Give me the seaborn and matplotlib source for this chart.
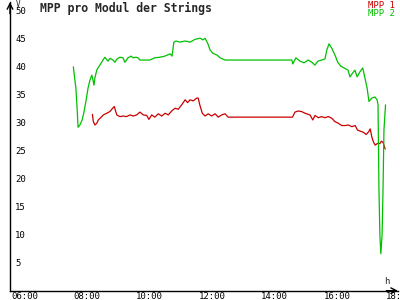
import matplotlib
matplotlib.use("Agg")
import matplotlib.pyplot as plt
import matplotlib.transforms as mtransforms
import seaborn as sns
import pandas as pd

# ---- data ----
title = "MPP pro Modul der Strings"
series_names = ["MPP 1", "MPP 2"]
series_colors = ["#c80000", "#00c000"]

mpp1_t = [8.47, 8.50, 8.55, 8.61, 8.66, 8.77, 8.82, 8.93, 9.03, 9.12, 9.17, 9.25, 9.35,
          9.46, 9.57, 9.67, 9.78, 9.89, 9.99, 10.10, 10.21, 10.28, 10.37, 10.47, 10.58,
          10.69, 10.80, 10.90, 11.01, 11.12, 11.22, 11.33, 11.44, 11.52, 11.60, 11.70,
          11.81, 11.86, 11.91, 11.99, 12.08, 12.18, 12.29, 12.40, 12.50, 12.61, 12.72,
          12.82, 13.04, 14.88, 14.96, 15.06, 15.17, 15.28, 15.44, 15.53, 15.60, 15.71,
          15.81, 15.92, 16.03, 16.14, 16.24, 16.35, 16.46, 16.57, 16.67, 16.78, 16.89,
          16.96, 17.05, 17.15, 17.24, 17.32, 17.37, 17.42, 17.47, 17.53, 17.60, 17.68,
          17.73, 17.78, 17.85]
mpp1_v = [31.5, 30.2, 29.6, 29.9, 30.5, 31.1, 31.4, 31.7, 32.0, 32.6, 32.9, 31.4, 31.1,
          31.2, 31.1, 31.4, 31.2, 31.4, 31.9, 31.4, 31.3, 30.6, 31.4, 31.0, 31.6,
          31.2, 31.7, 31.4, 32.1, 32.6, 32.4, 33.2, 34.1, 33.6, 34.1, 33.9,
          34.4, 34.4, 33.2, 31.7, 31.2, 31.6, 31.2, 31.6, 31.0, 31.4, 31.6,
          31.0, 31.0, 31.0, 31.9, 32.1, 32.0, 31.7, 31.4, 30.5, 31.3, 30.9,
          31.1, 30.9, 31.1, 30.8, 30.2, 29.9, 29.5, 29.5, 29.6, 29.3, 29.5,
          28.7, 28.5, 28.3, 27.9, 28.4, 28.9, 27.5, 26.6, 26.0, 26.3, 26.3,
          26.7, 26.5, 25.3]

mpp2_t = [7.86, 7.90, 7.94, 7.98, 8.01, 8.07, 8.14, 8.20, 8.27, 8.33, 8.39, 8.45, 8.49,
          8.52, 8.55, 8.61, 8.65, 8.71, 8.81, 8.87, 8.94, 8.97, 9.03, 9.13, 9.19, 9.26,
          9.35, 9.45, 9.51, 9.61, 9.71, 9.77, 9.87, 9.93, 9.99, 10.15, 10.31, 10.47,
          10.63, 10.79, 10.96, 11.02, 11.08, 11.15, 11.27, 11.44, 11.60, 11.76, 11.92,
          12.01, 12.08, 12.17, 12.24, 12.33, 12.46, 12.56, 12.72, 12.88, 14.86, 14.89,
          14.99, 15.12, 15.25, 15.38, 15.50, 15.60, 15.69, 15.82, 15.92, 15.98, 16.05,
          16.14, 16.24, 16.33, 16.43, 16.53, 16.66, 16.72, 16.81, 16.88, 16.95, 17.04,
          17.13, 17.20, 17.27, 17.33, 17.42, 17.52, 17.59, 17.62, 17.65, 17.68, 17.71,
          17.75, 17.78, 17.81, 17.86]
mpp2_v = [40.0, 38.0, 36.2, 32.6, 29.2, 29.6, 30.5, 31.9, 34.1, 36.2, 37.6, 38.5, 37.6,
          36.7, 38.0, 39.4, 39.8, 40.3, 41.2, 41.7, 41.2, 41.0, 41.5, 41.2, 40.8, 41.4,
          41.7, 41.6, 40.8, 41.6, 41.9, 41.6, 41.7, 41.6, 41.2, 41.2, 41.2, 41.6,
          41.7, 41.9, 42.3, 41.9, 44.4, 44.6, 44.4, 44.6, 44.4, 44.9, 45.1,
          44.8, 45.1, 44.1, 43.0, 42.4, 42.1, 41.6, 41.2, 41.2, 41.2, 40.5,
          41.6, 41.0, 40.7, 41.2, 40.8, 40.3, 41.0, 41.2, 41.4, 43.0, 44.1,
          43.3, 42.1, 40.8, 40.1, 39.8, 39.4, 38.2, 38.9, 39.4, 38.2, 39.1,
          39.8, 38.0, 36.2, 33.8, 34.4, 34.6, 34.1, 33.2, 18.0, 9.9, 6.6,
          9.9, 18.0, 28.7, 33.2]

y_ticks = [5, 10, 15, 20, 25, 30, 35, 40, 45, 50]
x_ticks = [6, 8, 10, 12, 14, 16, 18]
x_tick_labels = ["06:00", "08:00", "10:00", "12:00", "14:00", "16:00", "18:00"]
y_unit = "V"
x_unit = "h"

# ---- plot ----
sns.set_style("white")
plt.rcParams["font.family"] = ["DejaVu Sans Mono"]

fig = plt.figure(figsize=(4, 3), dpi=100)
ax = fig.add_axes([0.025, 0.031, 0.97, 0.962])

df1 = pd.DataFrame({"t": mpp1_t, "v": mpp1_v})
df2 = pd.DataFrame({"t": mpp2_t, "v": mpp2_v})
sns.lineplot(data=df1, x="t", y="v", color=series_colors[0], lw=0.9, ax=ax,
             estimator=None, sort=False)
sns.lineplot(data=df2, x="t", y="v", color=series_colors[1], lw=0.9, ax=ax,
             estimator=None, sort=False)

ax.set_xlim(5.83, 18.26)
ax.set_ylim(0, 51.55)
ax.set_xlabel("")
ax.set_ylabel("")
for s in ["top", "right"]:
    ax.spines[s].set_visible(False)
for s in ["left", "bottom"]:
    ax.spines[s].set_color("black")
    ax.spines[s].set_linewidth(1.0)

ax.set_yticks(y_ticks)
ax.set_yticklabels([str(v) for v in y_ticks])
ax.set_xticks(x_ticks)
ax.set_xticklabels(x_tick_labels)
ax.tick_params(axis="both", direction="inout", length=6, width=1.0, colors="black",
               labelsize=6.5)
ax.tick_params(axis="y", pad=-6.6)
for lab in ax.get_yticklabels():
    lab.set_ha("left")
ax.tick_params(axis="x", pad=-2.3)
offs = mtransforms.ScaledTranslation(-4 / 100, 0, fig.dpi_scale_trans)
for lab in ax.get_xticklabels():
    lab.set_ha("left")
    lab.set_transform(lab.get_transform() + offs)

# axis arrows
ax.annotate("", xy=(0, 1.0), xycoords="axes fraction", xytext=(0, 0.96),
            arrowprops=dict(arrowstyle="->", lw=1.0, color="black",
                            shrinkA=0, shrinkB=0))
ax.annotate("", xy=(1.0, 0), xycoords="axes fraction", xytext=(0.97, 0),
            arrowprops=dict(arrowstyle="->", lw=1.0, color="black",
                            shrinkA=0, shrinkB=0))

fig.text(18 / 400, 1.0, y_unit, ha="center", va="top", fontsize=5.5)
fig.text(387 / 400, 1 - 281 / 300, x_unit, ha="center", va="center", fontsize=6.5)

fig.text(40 / 400, 1 - 2 / 300, title, ha="left", va="top", fontsize=8.3,
         fontweight="bold")
for i, (name, col) in enumerate(zip(series_names, series_colors)):
    fig.text(395 / 400, 1 - (1 + 8 * i) / 300, name, ha="right", va="top",
             fontsize=6.5, color=col)

fig.savefig("out.png", dpi=100, facecolor="white")
